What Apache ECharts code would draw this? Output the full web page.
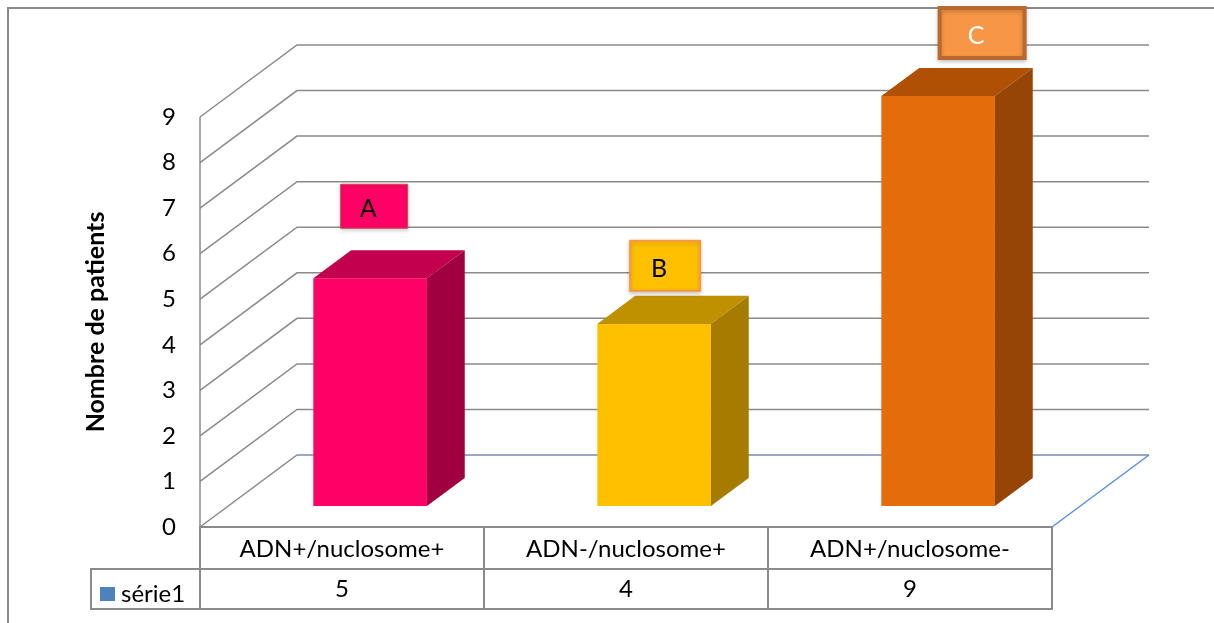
<!DOCTYPE html>
<html>
<head>
<meta charset="utf-8">
<title>Nombre de patients</title>
<script src="https://cdn.jsdelivr.net/npm/echarts@6/dist/echarts.min.js"></script>
<style>
  html, body { margin: 0; padding: 0; background: #fff; }
  #chart { width: 1214px; height: 623px; }
</style>
</head>
<body>
<div id="chart"></div>
<script>
var categories = ['ADN+/nuclosome+', 'ADN-/nuclosome+', 'ADN+/nuclosome-'];
var values = [5, 4, 9];
var boxLetters = ['A', 'B', 'C'];
var yTicks = [0, 1, 2, 3, 4, 5, 6, 7, 8, 9];
var seriesName = 'série1';

// styles (not data)
var FONT = 'Lato';
var FS = 24;
var DEPTH = { x: 97, y: -72 };
var FRONT = 0.29, BACK = 0.68;
var barColors = [
    { front: '#FF0066', top: '#C2004E', side: '#A0003F' },
    { front: '#FFC000', top: '#BF9000', side: '#A67C00' },
    { front: '#E46C0A', top: '#B05004', side: '#964506' }
];
var boxStyles = [
    { w: 67, h: 44, shift: 4, gap: 22, fill: '#FF0066', stroke: '#C0504D', lw: 1, text: '#000' },
    { w: 70, h: 50, shift: 11, gap: 5, fill: '#FFC000', stroke: '#F79646', lw: 2, text: '#000' },
    { w: 85, h: 50, shift: 44, gap: 10, fill: '#F79646', stroke: '#B8692F', lw: 4, text: '#fff' }
];
var gridColor = '#8a8a8a';

var myChart = echarts.init(document.getElementById('chart'));

function renderGrid(params, api) {
    var cs = params.coordSys;
    var k = api.value(1);
    var p = api.coord([0, k]);
    var x0 = cs.x, x1 = cs.x + cs.width;
    var y = p[1];
    var children = [];
    children.push({
        type: 'polyline',
        shape: { points: [[x0, y], [x0 + DEPTH.x, y + DEPTH.y], [x1 + DEPTH.x, y + DEPTH.y]] },
        style: { stroke: gridColor, lineWidth: 1.5, fill: null }
    });
    if (k === 0) {
        children.push({
            type: 'line',
            shape: { x1: x0 + DEPTH.x, y1: y + DEPTH.y, x2: x1 + DEPTH.x, y2: y + DEPTH.y },
            style: { stroke: '#93A9C8', lineWidth: 1.5 }
        });
        children.push({
            type: 'line',
            shape: { x1: x0, y1: y, x2: x1, y2: y },
            style: { stroke: '#A3B6D2', lineWidth: 1.5 }
        });
        children.push({
            type: 'line',
            shape: { x1: x1, y1: y, x2: x1 + DEPTH.x, y2: y + DEPTH.y },
            style: { stroke: '#5A8FD6', lineWidth: 1.5 }
        });
        var ytop = api.coord([0, yTicks[yTicks.length - 1]])[1];
        children.push({
            type: 'line',
            shape: { x1: x0, y1: y, x2: x0, y2: ytop },
            style: { stroke: gridColor, lineWidth: 1.5 }
        });
    }
    return { type: 'group', children: children };
}

function renderBar(params, api) {
    var i = api.value(0), v = api.value(1);
    var base = api.coord([i, 0]);
    var top = api.coord([i, v]);
    var band = api.size([1, 0])[0];
    var hw = band * 0.4 / 2;
    var ox = DEPTH.x * FRONT, oy = DEPTH.y * FRONT;
    var dx = DEPTH.x * (BACK - FRONT), dy = DEPTH.y * (BACK - FRONT);
    var xl = base[0] + ox - hw, xr = base[0] + ox + hw;
    var yb = base[1] + oy, yt = top[1] + oy;
    var c = barColors[i];
    return {
        type: 'group',
        children: [
            { type: 'rect', shape: { x: xl, y: yt, width: xr - xl, height: yb - yt }, style: { fill: c.front } },
            { type: 'polygon', shape: { points: [[xl, yt], [xr, yt], [xr + dx, yt + dy], [xl + dx, yt + dy]] }, style: { fill: c.top } },
            { type: 'polygon', shape: { points: [[xr, yt], [xr + dx, yt + dy], [xr + dx, yb + dy], [xr, yb]] }, style: { fill: c.side } }
        ]
    };
}

function renderBox(params, api) {
    var i = api.value(0), v = api.value(1);
    var top = api.coord([i, v]);
    var s = boxStyles[i];
    var cx = top[0] + DEPTH.x * FRONT + s.shift;
    var yb = top[1] + DEPTH.y * BACK - s.gap;
    return {
        type: 'group',
        children: [
            {
                type: 'rect',
                shape: { x: cx - s.w / 2, y: yb - s.h, width: s.w, height: s.h },
                style: { fill: s.fill, stroke: s.stroke, lineWidth: s.lw, shadowBlur: 4, shadowColor: 'rgba(0,0,0,0.2)', shadowOffsetY: 2 }
            },
            {
                type: 'text',
                style: {
                    text: boxLetters[i], x: cx - 6, y: yb - s.h / 2 + 3,
                    align: 'center', verticalAlign: 'middle',
                    fill: s.text, fontSize: 25, fontFamily: FONT
                }
            }
        ]
    };
}

function renderTable(params, api) {
    var cs = params.coordSys;
    var i = api.value(0);
    var band = api.size([1, 0])[0];
    var c = api.coord([i, 0]);
    var x0 = c[0] - band / 2;
    var yTop = cs.y + cs.height;
    var rowH = [42, 40];
    var line = { stroke: gridColor, lineWidth: 2, fill: null };
    var children = [
        { type: 'rect', shape: { x: x0, y: yTop, width: band, height: rowH[0] }, style: line },
        { type: 'rect', shape: { x: x0, y: yTop + rowH[0], width: band, height: rowH[1] }, style: line },
        { type: 'text', style: { text: categories[i], x: c[0], y: yTop + rowH[0] / 2 + 1, align: 'center', verticalAlign: 'middle', fontSize: FS, fontFamily: FONT, fill: '#000' } },
        { type: 'text', style: { text: String(values[i]), x: c[0], y: yTop + rowH[0] + rowH[1] / 2, align: 'center', verticalAlign: 'middle', fontSize: FS, fontFamily: FONT, fill: '#000' } }
    ];
    if (i === 0) {
        children.push({ type: 'rect', shape: { x: cs.x - 109, y: yTop + rowH[0], width: 109, height: rowH[1] }, style: line });
    }
    return { type: 'group', children: children };
}

var option = {
    animation: false,
    textStyle: { fontFamily: FONT },
    graphic: [{
        type: 'rect',
        shape: { x: 8, y: 8, width: 1400, height: 800 },
        style: { fill: null, stroke: '#8a8a8a', lineWidth: 2 },
        silent: true
    }],
    legend: {
        data: [{ name: seriesName, icon: 'rect' }],
        left: 100, top: 582, padding: 0,
        itemWidth: 15, itemHeight: 14, itemGap: 6,
        textStyle: { fontSize: FS, fontFamily: FONT, color: '#000', padding: [0, 0, 0, 1] },
        selectedMode: false
    },
    grid: { left: 200, right: 162, top: 117, bottom: 96 },
    xAxis: {
        type: 'category',
        data: categories,
        axisLine: { show: false },
        axisTick: { show: false },
        axisLabel: { show: false },
        splitLine: { show: false }
    },
    yAxis: {
        type: 'value',
        min: 0, max: 9, interval: 1,
        name: 'Nombre de patients',
        nameLocation: 'middle',
        nameRotate: 90,
        nameGap: 92,
        nameTextStyle: { fontSize: 25, fontWeight: 'bold', fontFamily: FONT, color: '#000' },
        axisLine: { show: false },
        axisTick: { show: false },
        splitLine: { show: false },
        axisLabel: { fontSize: FS, fontFamily: FONT, color: '#000', margin: 24 }
    },
    series: [
        {
            type: 'custom', name: 'grid', silent: true,
            renderItem: renderGrid,
            data: yTicks.map(function (t) { return [0, t]; }),
            z: 1
        },
        {
            type: 'custom', name: seriesName,
            itemStyle: { color: '#4F81BD' },
            renderItem: renderBar,
            data: values.map(function (v, i) { return [i, v]; }),
            z: 2
        },
        {
            type: 'custom', name: 'labels', silent: true,
            renderItem: renderBox,
            data: values.map(function (v, i) { return [i, v]; }),
            z: 3
        },
        {
            type: 'custom', name: 'table', silent: true,
            renderItem: renderTable,
            data: values.map(function (v, i) { return [i, v]; }),
            clip: false,
            z: 2
        }
    ]
};

myChart.setOption(option);
</script>
</body>
</html>
